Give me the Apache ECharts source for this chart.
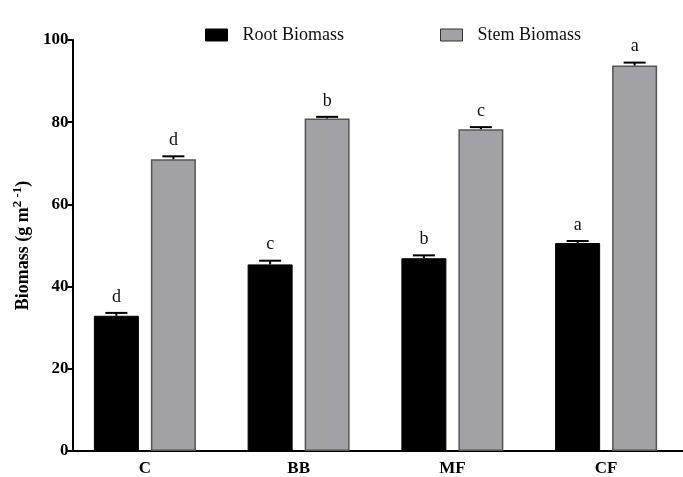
<!DOCTYPE html>
<html>
<head>
<meta charset="utf-8">
<script src="https://cdn.jsdelivr.net/npm/echarts@6/dist/echarts.min.js"></script>
<style>html,body{margin:0;padding:0;background:#fff;}#c{width:683px;height:477px;}</style>
</head>
<body>
<div id="c"></div>
<script>
const categories = ['C', 'BB', 'MF', 'CF'];
const rootValues = [32.9, 45.4, 46.9, 50.6];
const rootErrors = [0.7, 0.9, 0.7, 0.5];
const rootLetters = ['d', 'c', 'b', 'a'];
const stemValues = [71.0, 80.9, 78.3, 93.8];
const stemErrors = [0.7, 0.4, 0.5, 0.7];
const stemLetters = ['d', 'b', 'c', 'a'];
const yTicks = [0, 20, 40, 60, 80, 100];

const BAR_W = 45, BAR_GAP = 12, CAP_W = 22;
const FONT = '"Liberation Serif", "DejaVu Serif", serif';

function errSeries(values, errors, letters, sign) {
  return {
    type: 'custom',
    z: 5,
    data: values.map((v, i) => [i, v, errors[i], letters[i]]),
    renderItem: function (params, api) {
      const i = api.value(0), v = api.value(1), e = api.value(2);
      const off = sign * (BAR_W + BAR_GAP) / 2;
      const b = api.coord([i, v]);
      const t = api.coord([i, v + e]);
      const x = b[0] + off;
      const st = { stroke: '#000', lineWidth: 2 };
      return {
        type: 'group',
        children: [
          { type: 'line', shape: { x1: x, y1: b[1], x2: x, y2: t[1] }, style: st },
          { type: 'line', shape: { x1: x - CAP_W / 2, y1: t[1], x2: x + CAP_W / 2, y2: t[1] }, style: st },
          { type: 'text', style: { text: letters[i], x: x, y: t[1] - 7, textAlign: 'center', textVerticalAlign: 'bottom', font: '18px ' + FONT, fill: '#111' } }
        ]
      };
    }
  };
}

const chart = echarts.init(document.getElementById('c'));
chart.setOption({
  animation: false,
  backgroundColor: '#fff',
  legend: {
    top: 21,
    left: 200,
    itemWidth: 22,
    itemHeight: 12,
    itemGap: 96,
    textStyle: { fontFamily: FONT, fontSize: 18, color: '#111', padding: [0, 0, 0, 10] },
    data: [
      { name: 'Root Biomass', icon: 'rect', itemStyle: { color: '#000', borderColor: '#000', borderWidth: 1 } },
      { name: 'Stem Biomass', icon: 'rect', itemStyle: { color: '#a2a1a6', borderColor: '#333', borderWidth: 1 } }
    ]
  },
  grid: { left: 68, top: 40, bottom: 23, width: 629.3 },
  xAxis: {
    type: 'category',
    data: categories,
    axisLine: { lineStyle: { color: '#000', width: 2 } },
    axisTick: { alignWithLabel: true, length: 5, lineStyle: { color: '#000', width: 2 } },
    axisLabel: { fontFamily: FONT, fontWeight: 'bold', fontSize: 17, color: '#000', margin: 9 }
  },
  yAxis: {
    type: 'value',
    min: 0, max: 100, interval: 20,
    offset: -4.5,
    name: 'Biomass (g m{sup|2 -1})',
    nameLocation: 'middle',
    nameGap: 31,
    nameTextStyle: {
      fontFamily: FONT, fontWeight: 'bold', fontSize: 18, color: '#000',
      rich: { sup: { fontFamily: FONT, fontWeight: 'bold', fontSize: 13, color: '#000', verticalAlign: 'top', padding: [0, 0, 10, 0] } }
    },
    splitLine: { show: false },
    axisLine: { show: true, lineStyle: { color: '#000', width: 2 } },
    axisTick: { show: true, length: 5, lineStyle: { color: '#000', width: 2 } },
    axisLabel: { fontFamily: FONT, fontWeight: 'bold', fontSize: 17, color: '#000', margin: 4,
      formatter: v => yTicks.includes(v) ? String(v) : '' }
  },
  series: [
    { name: 'Root Biomass', type: 'bar', barWidth: BAR_W, barGap: (BAR_GAP / BAR_W * 100) + '%', data: rootValues,
      itemStyle: { color: '#000', borderColor: '#000', borderWidth: 1 } },
    { name: 'Stem Biomass', type: 'bar', barWidth: BAR_W, data: stemValues,
      itemStyle: { color: '#a2a1a6', borderColor: '#555', borderWidth: 1.5 } },
    errSeries(rootValues, rootErrors, rootLetters, -1),
    errSeries(stemValues, stemErrors, stemLetters, 1)
  ]
});
</script>
</body>
</html>
